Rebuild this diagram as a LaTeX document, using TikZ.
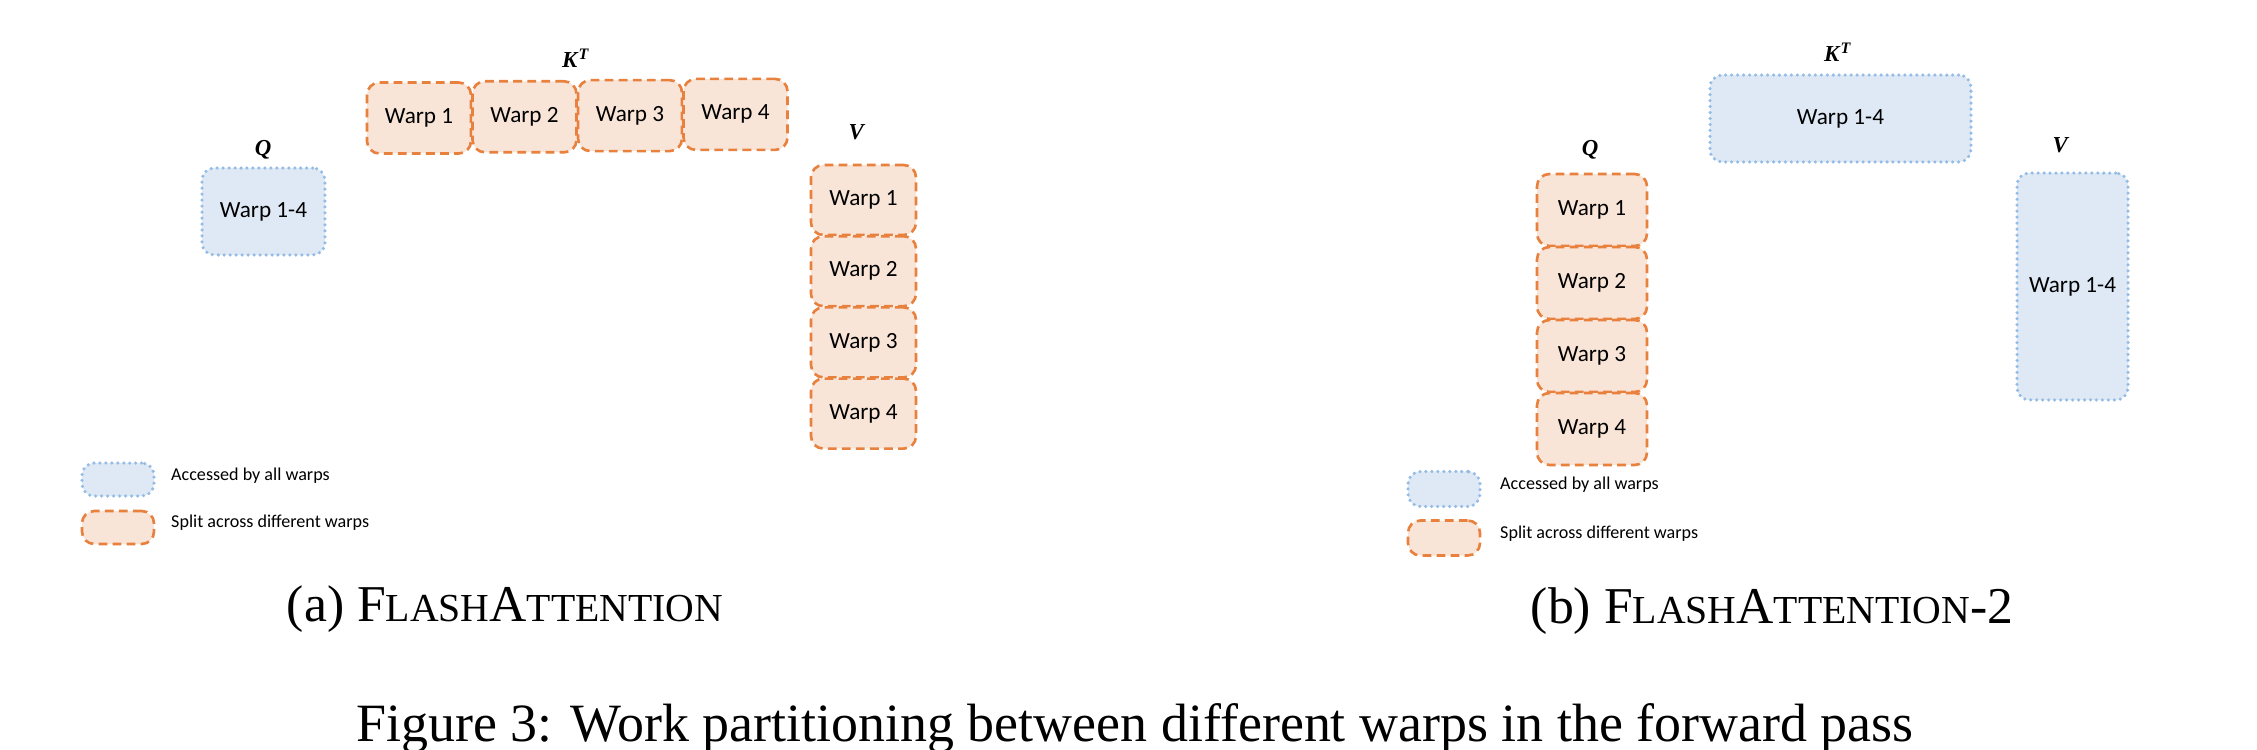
\documentclass[tikz,border=0pt]{standalone}
\usepackage{fontspec}
\setmainfont{Liberation Serif}
\newfontfamily\boxfont{Carlito}
\definecolor{allblue}{HTML}{94BCE4}
\definecolor{allfill}{HTML}{DFE9F6}
\definecolor{splitorange}{HTML}{E8803E}
\definecolor{splitfill}{HTML}{F9E5D7}
\newcommand{\fakesc}[1]{{\fontsize{22.6}{22.6}\selectfont #1}}
\newcommand{\matname}[1]{\textbf{\textit{#1}}}
\tikzset{
	warpbox/.style={rounded corners=7pt, inner sep=0pt, font=\boxfont\fontsize{13.2}{14}\selectfont},
	allwarps/.style={warpbox, draw=allblue, fill=allfill, line width=2pt, line cap=round, dash pattern=on 0pt off 3.4pt},
	splitwarps/.style={warpbox, draw=splitorange, fill=splitfill, line width=1.5pt, dash pattern=on 5pt off 3pt},
	matlabel/.style={font=\fontsize{13}{13}\selectfont},
	legendtext/.style={anchor=west, font=\boxfont\fontsize{10.3}{11}\selectfont},
	subcap/.style={anchor=base, font=\fontsize{29.4}{29.4}\selectfont},
	figcaption/.style={anchor=base, font=\fontsize{30.7}{30.7}\selectfont},
}
\begin{document}
\begin{tikzpicture}[x=0.02cm,y=-0.02cm]
	\useasboundingbox (0,0) rectangle (2257,750);
	% (a) FlashAttention
	\node (qa) [allwarps, minimum width=2.46cm, minimum height=1.74cm] at (263.5,211.5) {Warp 1-4};
	\node (qalabel) [matlabel] at (263,150) {\matname{Q}};
	\foreach \i in {1,...,4}
		\node (ka\i) [splitwarps, minimum width=2.08cm, minimum height=1.42cm] at ({419+105.5*(\i-1)},{118-1.2*(\i-1)}) {Warp \i};
	\node (kalabel) [matlabel] at (576,58) {\matname{K}\textsuperscript{\matname{T}}};
	\foreach \i in {1,...,4}
		\node (va\i) [splitwarps, minimum width=2.1cm, minimum height=1.4cm] at (863.5,{200+71.2*(\i-1)}) {Warp \i};
	\node (valabel) [matlabel] at (857,132) {\matname{V}};
	\node (lega1) [allwarps, minimum width=1.44cm, minimum height=0.66cm] at (118,479.5) {};
	\node (lega2) [splitwarps, minimum width=1.44cm, minimum height=0.66cm] at (118,527.5) {};
	\node (legatext1) [legendtext] at (165,476) {Accessed by all warps};
	\node (legatext2) [legendtext] at (165,523) {Split across different warps};
	\node (capa) [subcap] at (505,621) {(a) F\fakesc{LASH}A\fakesc{TTENTION}};
	% (b) FlashAttention-2
	\node (kb) [allwarps, minimum width=5.22cm, minimum height=1.74cm] at (1840.5,118.5) {Warp 1-4};
	\node (kblabel) [matlabel] at (1838,52) {\matname{K}\textsuperscript{\matname{T}}};
	\foreach \i in {1,...,4}
		\node (qb\i) [splitwarps, minimum width=2.2cm, minimum height=1.44cm] at (1592,{210+73*(\i-1)}) {Warp \i};
	\node (qblabel) [matlabel] at (1590,150) {\matname{Q}};
	\node (vb) [allwarps, minimum width=2.22cm, minimum height=4.54cm] at (2072.5,286.5) {Warp 1-4};
	\node (vblabel) [matlabel] at (2061,145) {\matname{V}};
	\node (legb1) [allwarps, minimum width=1.44cm, minimum height=0.7cm] at (1444,489) {};
	\node (legb2) [splitwarps, minimum width=1.44cm, minimum height=0.7cm] at (1444,538) {};
	\node (legbtext1) [legendtext] at (1494,485) {Accessed by all warps};
	\node (legbtext2) [legendtext] at (1494,534) {Split across different warps};
	\node (capb) [subcap] at (1772,623) {(b) F\fakesc{LASH}A\fakesc{TTENTION}-2};
	% figure caption
	\node (figcap) [figcaption] at (1135,741) {Figure 3: Work partitioning between different warps in the forward pass};
\end{tikzpicture}
\end{document}
